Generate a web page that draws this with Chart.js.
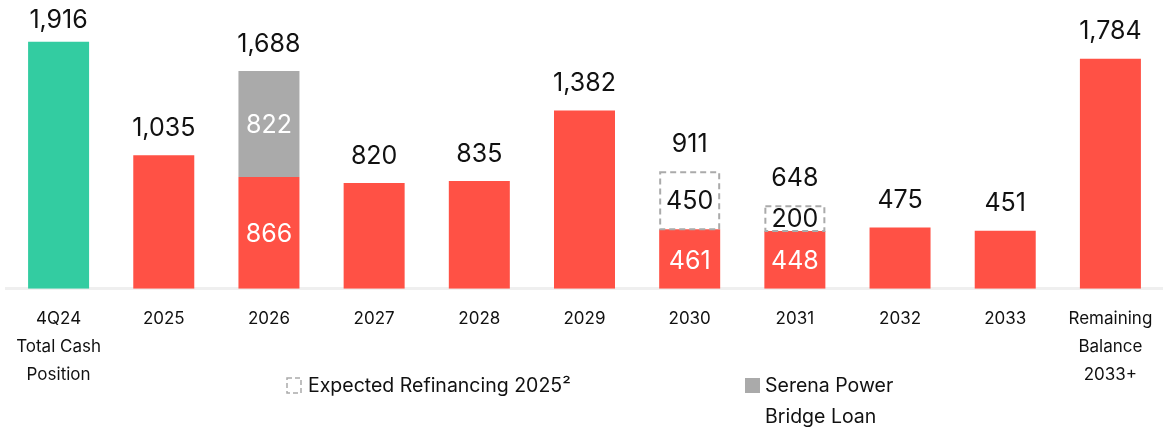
<!DOCTYPE html>
<html>
<head>
<meta charset="utf-8">
<script src="https://cdn.jsdelivr.net/npm/chart.js@4"></script>
<style>
  html, body { margin: 0; padding: 0; background: #fff; }
  #wrap { width: 1163px; height: 429px; }
</style>
</head>
<body>
<div id="wrap"><canvas id="debtChart"></canvas></div>
<script>
// categories on the x axis (arrays = multi-line labels)
const categories = [
  ['4Q24', 'Total Cash', 'Position'], '2025', '2026', '2027', '2028', '2029',
  '2030', '2031', '2032', '2033', ['Remaining', 'Balance', '2033+']
];
// base amount per column (cash position + debt maturities)
const baseValues = [1916, 1035, 866, 820, 835, 1382, 461, 448, 475, 451, 1784];
// Serena Power bridge loan
const bridgeValues = [null, null, 822, null, null, null, null, null, null, null, null];
// expected refinancing 2025 (dashed boxes)
const refiValues = [null, null, null, null, null, null, 450, 200, null, null, null];
// labels shown above each column
const totalLabels = ['1,916', '1,035', '1,688', '820', '835', '1,382', '911', '648', '475', '451', '1,784'];

const GREEN = '#33CCA1';
const RED = '#FF5145';
const GREY = '#AAAAAA';
const FONT = 'Inter, "Open Sans", sans-serif';

var baseColors = baseValues.map((v, i) => i === 0 ? GREEN : RED);

const labelsPlugin = {
    id: 'labels',
    afterDatasetsDraw(chart) {
        const ctx = chart.ctx;
        const metaBase = chart.getDatasetMeta(0);
        const metaBridge = chart.getDatasetMeta(1);
        const metaRefi = chart.getDatasetMeta(2);
        ctx.save();

        // dashed boxes for refinancing
        metaRefi.data.forEach((bar, i) => {
            if (refiValues[i] == null) return;
            ctx.setLineDash([6, 4]);
            ctx.lineWidth = 2;
            ctx.strokeStyle = GREY;
            ctx.strokeRect(bar.x - bar.width / 2 + 1, bar.y + 1, bar.width - 2, bar.base - bar.y - 1);
        });
        ctx.setLineDash([]);

        ctx.textAlign = 'center';
        ctx.textBaseline = 'middle';
        ctx.font = '25px ' + FONT;

        baseValues.forEach((v, i) => {
            const b = metaBase.data[i];
            const stacked = bridgeValues[i] != null || refiValues[i] != null;
            if (stacked) {
                ctx.fillStyle = '#fff';
                ctx.fillText(String(v), b.x, (b.y + b.base) / 2 + 2);
            }
            if (bridgeValues[i] != null) {
                const g = metaBridge.data[i];
                ctx.fillStyle = '#fff';
                ctx.fillText(String(bridgeValues[i]), g.x, (g.y + g.base) / 2 + 1);
            }
            if (refiValues[i] != null) {
                const r = metaRefi.data[i];
                ctx.fillStyle = '#111';
                ctx.fillText(String(refiValues[i]), r.x, (r.y + r.base) / 2 + 1);
            }
            // top label (kept inside the canvas)
            let top = b.y;
            if (bridgeValues[i] != null) top = metaBridge.data[i].y;
            if (refiValues[i] != null) top = metaRefi.data[i].y;
            ctx.fillStyle = '#111';
            ctx.fillText(totalLabels[i], b.x, Math.max(top - 27, 20));
        });

        // legend
        ctx.setLineDash([5, 3]);
        ctx.lineWidth = 1.5;
        ctx.strokeStyle = GREY;
        ctx.strokeRect(287, 378, 14, 15);
        ctx.setLineDash([]);
        ctx.fillStyle = GREY;
        ctx.fillRect(745, 378, 15, 15);

        ctx.fillStyle = '#111';
        ctx.textAlign = 'left';
        ctx.font = '19.5px ' + FONT;
        ctx.fillText('Expected Refinancing 2025\u00B2', 308, 386);
        ctx.fillText('Serena Power', 765, 386);
        ctx.fillText('Bridge Loan', 765, 417);
        ctx.restore();
    }
};

var ctx = document.getElementById('debtChart').getContext('2d');
var debtChart = new Chart(ctx, {
    type: 'bar',
    data: {
        labels: categories,
        datasets: [
            {
                label: 'Base',
                data: baseValues,
                backgroundColor: baseColors,
                borderWidth: 0
            },
            {
                label: 'Serena Power Bridge Loan',
                data: bridgeValues,
                backgroundColor: GREY,
                borderWidth: 0
            },
            {
                label: 'Expected Refinancing 2025²',
                data: refiValues,
                backgroundColor: 'rgba(255,255,255,0)',
                borderWidth: 0
            }
        ]
    },
    options: {
        responsive: true,
        maintainAspectRatio: false,
        animation: false,
        datasets: {
            bar: {
                categoryPercentage: 1.0,
                barPercentage: 0.58
            }
        },
        layout: {
            padding: { left: 6, right: 0, top: 5, bottom: 32 }
        },
        plugins: {
            legend: { display: false },
            tooltip: { enabled: false }
        },
        scales: {
            x: {
                stacked: true,
                grid: { display: false },
                border: { display: true, color: '#EFEFEF', width: 3 },
                ticks: {
                    color: '#111',
                    padding: 8,
                    maxRotation: 0,
                    autoSkip: false,
                    font: { family: FONT, size: 17, lineHeight: 1.65 }
                }
            },
            y: {
                stacked: true,
                display: false,
                min: 0,
                max: 2200
            }
        }
    },
    plugins: [labelsPlugin]
});
</script>
</body>
</html>
